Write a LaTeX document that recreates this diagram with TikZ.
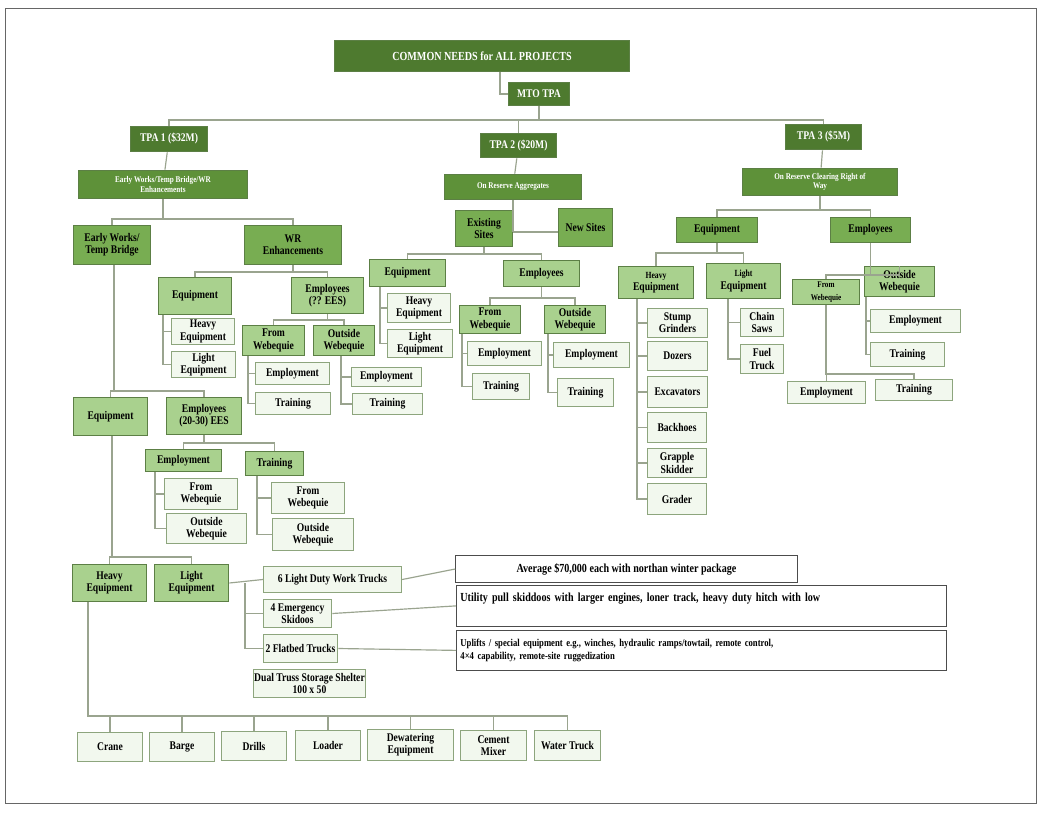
\documentclass[tikz,border=0pt]{standalone}
\usepackage{fontspec}
\setmainfont{Liberation Serif}[FakeStretch=0.82]
\usepackage{xcolor}
\definecolor{grDark}{HTML}{4E7A2F}
\definecolor{grMid}{HTML}{5E9139}
\definecolor{grBox}{HTML}{78AD52}
\definecolor{grLight}{HTML}{A9D18E}
\definecolor{grLeaf}{HTML}{F2F8EE}
\definecolor{grBorder}{HTML}{5C7F45}
\definecolor{lineGray}{HTML}{9AA48F}
\usetikzlibrary{calc}
\tikzset{
    box/.style={draw=grBorder, line width=0.8pt, rectangle, align=center,
        inner sep=1pt, font=\bfseries\fontsize{10}{10.5}\selectfont},
    lvA/.style={box, fill=grDark, text=white},
    lvB/.style={box, fill=grMid, text=white, font=\bfseries\fontsize{7.5}{8}\selectfont},
    lvC/.style={box, fill=grBox, text=black},
    lvD/.style={box, fill=grLight, text=black},
    leaf/.style={box, fill=grLeaf, draw=grBorder!70, text=black},
    note/.style={box, fill=white, draw=black!70, text=black, align=left,
        font=\bfseries\fontsize{10.5}{12}\selectfont},
    conn/.style={draw=lineGray, line width=1pt}
}
% box: name, style, x1, y1, x2, y2, text
\newcommand{\bx}[7]{\node[#2, minimum width={(#5-#3)*0.85pt}, minimum height={(#6-#4)*0.85pt}]
    (#1) at ({(#3+#5)/2},{(#4+#6)/2}) {#7};}
% parent to child over a bus line
\newcommand{\drop}[3]{\draw[conn] (#1.south) -- (#1.south |- 0,#3) -| (#2.north);}
% parent to child by a side rail
\newcommand{\side}[3]{\draw[conn] (#1.south -| #3,0) |- (#2.west);}

\begin{document}
\begin{tikzpicture}[x=0.03cm, y=-0.03cm]
    \useasboundingbox (0,0) rectangle (1044,814);
    \fill[white] (0,0) rectangle (1044,814);
    \draw[black!60] (5,8) rectangle (1036,803);

    % top levels
    \bx{common}{lvA, font=\bfseries\fontsize{10.5}{11}\selectfont}{334}{40}{630}{72}{COMMON NEEDS for ALL PROJECTS}
    \bx{mto}{lvA}{508}{82}{570}{106}{MTO TPA}
    \bx{tpaA}{lvA}{130}{126}{208}{152}{TPA 1 (\$32M)}
    \bx{tpaB}{lvA}{480}{133}{557}{158}{TPA 2 (\$20M)}
    \bx{tpaC}{lvA}{785}{124}{862}{150}{TPA 3 (\$5M)}
    \draw[conn] (common.south -| 500,0) |- (mto.west);
    \drop{mto}{tpaA}{120}
    \drop{mto}{tpaB}{120}
    \drop{mto}{tpaC}{120}

    \bx{ewA}{lvB}{78}{170}{248}{199}{Early Works/Temp Bridge/WR\\Enhancements}
    \bx{oraB}{lvB}{444}{174}{582}{200}{On Reserve Aggregates}
    \bx{orcC}{lvB}{742}{168}{898}{196}{On Reserve Clearing Right of\\Way}
    \draw[conn] (tpaA) -- (ewA);
    \draw[conn] (tpaB) -- (oraB);
    \draw[conn] (tpaC) -- (orcC);

    % TPA 1
    \bx{ewtb}{lvC}{73}{225}{151}{265}{Early Works/\\Temp Bridge}
    \bx{wre}{lvC}{244}{225}{342}{265}{WR\\Enhancements}
    \drop{ewA}{ewtb}{219}
    \drop{ewA}{wre}{219}
    \bx{wreEq}{lvD}{158}{277}{232}{315}{Equipment}
    \bx{wreEm}{lvD}{291}{277}{364}{314}{Employees\\(?? EES)}
    \drop{wre}{wreEq}{272}
    \drop{wre}{wreEm}{272}
    \bx{wreHe}{leaf}{171}{318}{235}{345}{Heavy\\Equipment}
    \bx{wreLe}{leaf}{171}{352}{236}{377}{Light\\Equipment}
    \side{wreEq}{wreHe}{163}
    \side{wreEq}{wreLe}{163}
    \bx{wreFw}{lvD}{242}{325}{305}{356}{From\\Webequie}
    \bx{wreOw}{lvD}{313}{325}{375}{356}{Outside\\Webequie}
    \drop{wreEm}{wreFw}{320}
    \drop{wreEm}{wreOw}{320}
    \bx{wreFwE}{leaf}{255}{362}{330}{385}{Employment}
    \bx{wreFwT}{leaf}{255}{392}{331}{415}{Training}
    \side{wreFw}{wreFwE}{248}
    \side{wreFw}{wreFwT}{248}
    \bx{wreOwE}{leaf}{351}{367}{422}{387}{Employment}
    \bx{wreOwT}{leaf}{352}{393}{423}{415}{Training}
    \side{wreOw}{wreOwE}{341}
    \side{wreOw}{wreOwT}{341}

    \bx{ewEq}{lvD}{73}{397}{148}{436}{Equipment}
    \bx{ewEm}{lvD}{166}{397}{242}{435}{Employees\\(20-30) EES}
    \draw[conn] (ewtb.south -| 114,0) |- (ewEq.north |- 0,391) -- (ewEq.north);
    \draw[conn] (ewtb.south -| 114,0) |- (ewEm.north |- 0,391) -- (ewEm.north);
    \bx{ewEmE}{lvD}{145}{449}{222}{472}{Employment}
    \bx{ewEmT}{lvD}{245}{451}{304}{476}{Training}
    \drop{ewEm}{ewEmE}{443}
    \drop{ewEm}{ewEmT}{443}
    \bx{ewEFw}{leaf}{164}{478}{238}{510}{From\\Webequie}
    \bx{ewEOw}{leaf}{166}{513}{247}{544}{Outside\\Webequie}
    \side{ewEmE}{ewEFw}{155}
    \side{ewEmE}{ewEOw}{155}
    \bx{ewTFw}{leaf}{271}{482}{345}{514}{From\\Webequie}
    \bx{ewTOw}{leaf}{272}{518}{354}{551}{Outside\\Webequie}
    \side{ewEmT}{ewTFw}{257}
    \side{ewEmT}{ewTOw}{257}

    \bx{ewHe}{lvD}{72}{564}{147}{602}{Heavy\\Equipment}
    \bx{ewLe}{lvD}{154}{564}{229}{602}{Light\\Equipment}
    \draw[conn] (ewEq.south -| 112,0) |- (ewHe.north |- 0,557) -- (ewHe.north);
    \draw[conn] (ewEq.south -| 112,0) |- (ewLe.north |- 0,557) -- (ewLe.north);

    \bx{ldTruck}{leaf}{263}{566}{402}{593}{6 Light Duty Work Trucks}
    \bx{skidoo}{leaf}{263}{599}{332}{628}{4 Emergency\\Skidoos}
    \bx{flatbed}{leaf}{263}{634}{338}{663}{2 Flatbed Trucks}
    \bx{shelter}{leaf}{261}{669}{358}{698}{Dual Truss Storage Shelter\\100 x 50}
    \draw[conn] (ewLe.east) -- (ldTruck.west);
    \draw[conn] (ewLe.east -| 245,0) |- (skidoo.west);
    \draw[conn] (ewLe.east -| 245,0) |- (flatbed.west);
    \bx{noteA}{note}{455}{555}{798}{583}{Average \$70,000 each with northan winter package}
    \node[note, anchor=north west, minimum width={492*0.85pt}, minimum height={41*0.85pt},
        text width={484*0.85pt}, align=left, inner ysep=4pt] (noteB) at (456,585)
        {Utility pull skiddoos with larger engines, loner track, heavy duty hitch with low\par\vphantom{g}};
    \node[note, anchor=north west, minimum width={492*0.85pt}, minimum height={40*0.85pt},
        text width={484*0.85pt}, align=left, font=\bfseries\fontsize{9}{10.5}\selectfont] (noteC) at (456,630)
        {Uplifts / special equipment e.g., winches, hydraulic ramps/towtail, remote control,\\4×4 capability, remote-site ruggedization};
    \draw[conn] (ldTruck.east) -- (noteA.west);
    \draw[conn] (skidoo.east) -- (noteB.west);
    \draw[conn] (flatbed.east) -- (noteC.west);

    \bx{crane}{leaf}{77}{732}{143}{762}{Crane}
    \bx{barge}{leaf}{149}{732}{215}{762}{Barge}
    \bx{drills}{leaf}{221}{731}{287}{761}{Drills}
    \bx{loader}{leaf}{295}{730}{361}{761}{Loader}
    \bx{dewater}{leaf}{367}{729}{454}{761}{Dewatering\\Equipment}
    \bx{cement}{leaf}{460}{730}{527}{761}{Cement\\Mixer}
    \bx{wtruck}{leaf}{534}{730}{601}{761}{Water Truck}
    \foreach \c in {crane,barge,drills,loader,dewater,cement,wtruck}{
        \draw[conn] (ewHe.south -| 88,0) |- (\c.north |- 0,716) -- (\c.north);
    }

    % TPA 2
    \bx{exist}{lvC}{455}{210}{513}{247}{Existing\\Sites}
    \bx{newS}{lvC}{558}{208}{613}{247}{New Sites}
    \draw[conn] (oraB.south) -- (oraB.south |- 0,232);
    \draw[conn] (exist.east |- 0,232) -- (newS.west |- 0,232);
    \bx{exEq}{lvD}{369}{259}{446}{287}{Equipment}
    \bx{exEm}{lvD}{503}{260}{580}{287}{Employees}
    \drop{exist}{exEq}{254}
    \drop{exist}{exEm}{254}
    \bx{exHe}{leaf}{387}{293}{451}{323}{Heavy\\Equipment}
    \bx{exLe}{leaf}{387}{329}{453}{358}{Light\\Equipment}
    \side{exEq}{exHe}{380}
    \side{exEq}{exLe}{380}
    \bx{exFw}{lvD}{459}{305}{521}{334}{From\\Webequie}
    \bx{exOw}{lvD}{544}{305}{606}{334}{Outside\\Webequie}
    \drop{exEm}{exFw}{298}
    \drop{exEm}{exOw}{298}
    \bx{exFwE}{leaf}{467}{341}{542}{366}{Employment}
    \bx{exFwT}{leaf}{472}{373}{530}{400}{Training}
    \side{exFw}{exFwE}{462}
    \side{exFw}{exFwT}{462}
    \bx{exOwE}{leaf}{553}{342}{630}{368}{Employment}
    \bx{exOwT}{leaf}{557}{378}{614}{407}{Training}
    \side{exOw}{exOwE}{548}
    \side{exOw}{exOwT}{548}

    % TPA 3
    \bx{rwEq}{lvC}{676}{217}{758}{243}{Equipment}
    \bx{rwEm}{lvC}{830}{217}{911}{243}{Employees}
    \drop{orcC}{rwEq}{210}
    \drop{orcC}{rwEm}{210}
    \bx{rwHe}{lvD}{618}{266}{694}{299}{{\fontsize{8}{8}\selectfont Heavy}\\Equipment}
    \bx{rwLe}{lvD}{706}{263}{781}{299}{{\fontsize{8}{8}\selectfont Light}\\Equipment}
    \drop{rwEq}{rwHe}{253}
    \drop{rwEq}{rwLe}{253}
    \bx{stump}{leaf}{647}{308}{708}{338}{Stump\\Grinders}
    \bx{dozer}{leaf}{647}{341}{708}{371}{Dozers}
    \bx{excav}{leaf}{647}{376}{708}{408}{Excavators}
    \bx{backhoe}{leaf}{647}{412}{707}{443}{Backhoes}
    \bx{grapple}{leaf}{647}{448}{707}{478}{Grapple\\Skidder}
    \bx{grader}{leaf}{647}{483}{707}{515}{Grader}
    \foreach \c in {stump,dozer,excav,backhoe,grapple,grader}{
        \side{rwHe}{\c}{637}
    }
    \bx{saws}{leaf}{740}{308}{784}{337}{Chain\\Saws}
    \bx{fuel}{leaf}{740}{344}{784}{374}{Fuel\\Truck}
    \side{rwLe}{saws}{728}
    \side{rwLe}{fuel}{728}
    \bx{rwFw}{lvD}{792}{279}{860}{305}{{\fontsize{7.5}{8}\selectfont From}\\{\fontsize{7.5}{8}\selectfont Webequie}}
    \bx{rwOw}{lvD}{864}{266}{935}{297}{Outside\\Webequie}
    \drop{rwEm}{rwFw}{275}
    \drop{rwEm}{rwOw}{275}
    \bx{rwOwE}{leaf}{870}{309}{961}{333}{Employment}
    \bx{rwOwT}{leaf}{870}{342}{945}{367}{Training}
    \side{rwOw}{rwOwE}{866}
    \side{rwOw}{rwOwT}{866}
    \bx{rwFwE}{leaf}{787}{381}{866}{404}{Employment}
    \bx{rwFwT}{leaf}{875}{379}{953}{401}{Training}
    \drop{rwFw}{rwFwE}{374}
    \drop{rwFw}{rwFwT}{374}
\end{tikzpicture}
\end{document}
